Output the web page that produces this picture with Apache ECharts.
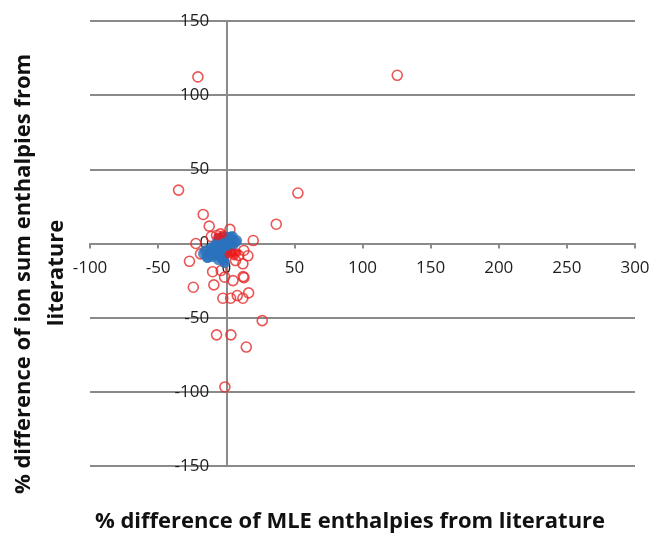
<!DOCTYPE html>
<html>
<head>
<meta charset="utf-8">
<script src="https://cdn.jsdelivr.net/npm/echarts@6/dist/echarts.min.js"></script>
<style>
  html, body { margin: 0; padding: 0; background: #ffffff; }
  #chart { width: 653px; height: 536px; }
</style>
</head>
<body>
<div id="chart"></div>
<script>
// Percent differences [MLE, ion sum] for each compound, open red markers
const hollowRed = [
  [-20.8, 112.3], [125.5, 113.4], [-35, 36], [52.6, 34], [-16.9, 19.6],
  [-12.5, 11.7], [36.7, 13], [2.7, 9.5], [19.8, 2], [-22.3, 0],
  [-11, 4.7], [-7.1, 5.4], [-4.2, 6.5], [-18.9, -7], [-27, -12],
  [12.9, -4.7], [15.9, -8.3], [12.2, -13.7], [9.2, -8.1], [6.8, -11.5],
  [-10, -19], [-3.7, -18.2], [-1.2, -22.7], [4.9, -25], [12.4, -22.3],
  [13.0, -23.0], [-24.2, -29.5], [-9.1, -27.9], [-2.5, -36.9], [3.2, -36.9],
  [8.1, -35.1], [12.2, -36.9], [16.4, -33.3], [26.4, -52], [-7.1, -61.6],
  [3.4, -61.6], [14.7, -69.8], [-1, -96.7]
];

// Filled blue markers clustered near the origin
const filledBlue = [
  [-13.9, -9.2], [-15.2, -4.7], [-10.3, -2.5], [-6.6, 0.9], [-1.8, 4.3],
  [3.2, 4.3], [6.8, 0.9], [1.9, -0.2], [-2.9, -2.5], [-6.6, -5.9],
  [-4.2, -9.2], [-1.8, -11.5], [0.7, -4.7], [-10, -7.4], [4.6, -1.4],
  [-5.7, 3.4], [-16.7, -6.8], [-13.7, -9.5], [-11.5, -4.7], [-8.6, -2.0],
  [-7.1, -7.4], [-4.9, -4.1], [-2.7, 0], [-0.5, 2.0], [1.7, 4.1],
  [4.6, 4.7], [7.6, 2.0], [3.2, -2.0], [0.2, -6.1], [-2.7, -10.1],
  [-1.2, -12.8], [-5.7, -10.8], [-10.1, -8.8]
];

// Filled red markers
const filledRed = [
  [4.6, -6.1], [8.3, -6.1], [6.1, -8.8], [1.7, -7.4], [-2.7, 6.1], [-6.4, 4.7]
];

// Axis ranges and tick spacing
const xRange = [-100, 300];
const yRange = [-150, 150];
const tickStep = 50;

const xTitle = '% difference of MLE enthalpies from literature';
const yTitleLines = ['% difference of ion sum enthalpies from', 'literature'];

// Plot box
const W = 653, H = 536;
const grid = { left: 90, right: 18, top: 21, bottom: 70 };
const plotW = W - grid.left - grid.right;
const plotH = H - grid.top - grid.bottom;

// Axes cross at the origin: shift each axis from the plot edge to the zero line
const yAxisShift = plotW * (0 - xRange[0]) / (xRange[1] - xRange[0]);
const xAxisShift = plotH * (0 - yRange[0]) / (yRange[1] - yRange[0]);

const gridColor = '#8a8a8a';
const labelFont = { fontFamily: 'Open Sans', fontSize: 17, color: '#1e1e1e' };
const titleFont = 'bold 22px "Open Sans"';

const chart = echarts.init(document.getElementById('chart'), null, { renderer: 'canvas' });

chart.setOption({
  animation: false,
  backgroundColor: '#ffffff',
  grid: Object.assign({ containLabel: false }, grid),
  xAxis: {
    type: 'value',
    position: 'bottom',
    offset: -xAxisShift,
    min: xRange[0], max: xRange[1], interval: tickStep,
    axisLine: { show: true, onZero: false, lineStyle: { color: gridColor, width: 2 } },
    axisTick: { show: true, length: 5, lineStyle: { color: gridColor, width: 2 } },
    axisLabel: Object.assign({ margin: 16 }, labelFont),
    splitLine: { show: false }
  },
  yAxis: {
    type: 'value',
    position: 'left',
    offset: -yAxisShift,
    min: yRange[0], max: yRange[1], interval: tickStep,
    axisLine: { show: true, onZero: false, lineStyle: { color: gridColor, width: 2 } },
    axisTick: { show: false },
    axisLabel: Object.assign({ margin: 17 }, labelFont),
    splitLine: { show: true, lineStyle: { color: gridColor, width: 2 } }
  },
  series: [
    {
      type: 'scatter',
      data: hollowRed,
      symbol: 'circle',
      symbolSize: 10,
      itemStyle: { color: 'rgba(255,255,255,0)', borderColor: '#e62a2a', borderWidth: 1.6 },
      z: 2
    },
    {
      type: 'scatter',
      data: filledBlue,
      symbol: 'circle',
      symbolSize: 11,
      itemStyle: { color: '#2a72bd' },
      z: 3
    },
    {
      type: 'scatter',
      data: filledRed,
      symbol: 'circle',
      symbolSize: 8,
      itemStyle: { color: '#f01818' },
      z: 4
    }
  ],
  graphic: [
    {
      type: 'text', x: 350, y: 522,
      style: { text: xTitle, font: titleFont, fill: '#111', textAlign: 'center', textVerticalAlign: 'middle' }
    },
    {
      type: 'text', x: 24, y: 274, rotation: Math.PI / 2,
      style: { text: yTitleLines[0], font: titleFont, fill: '#111', textAlign: 'center', textVerticalAlign: 'middle' }
    },
    {
      type: 'text', x: 57, y: 273, rotation: Math.PI / 2,
      style: { text: yTitleLines[1], font: titleFont, fill: '#111', textAlign: 'center', textVerticalAlign: 'middle' }
    }
  ]
});
</script>
</body>
</html>
